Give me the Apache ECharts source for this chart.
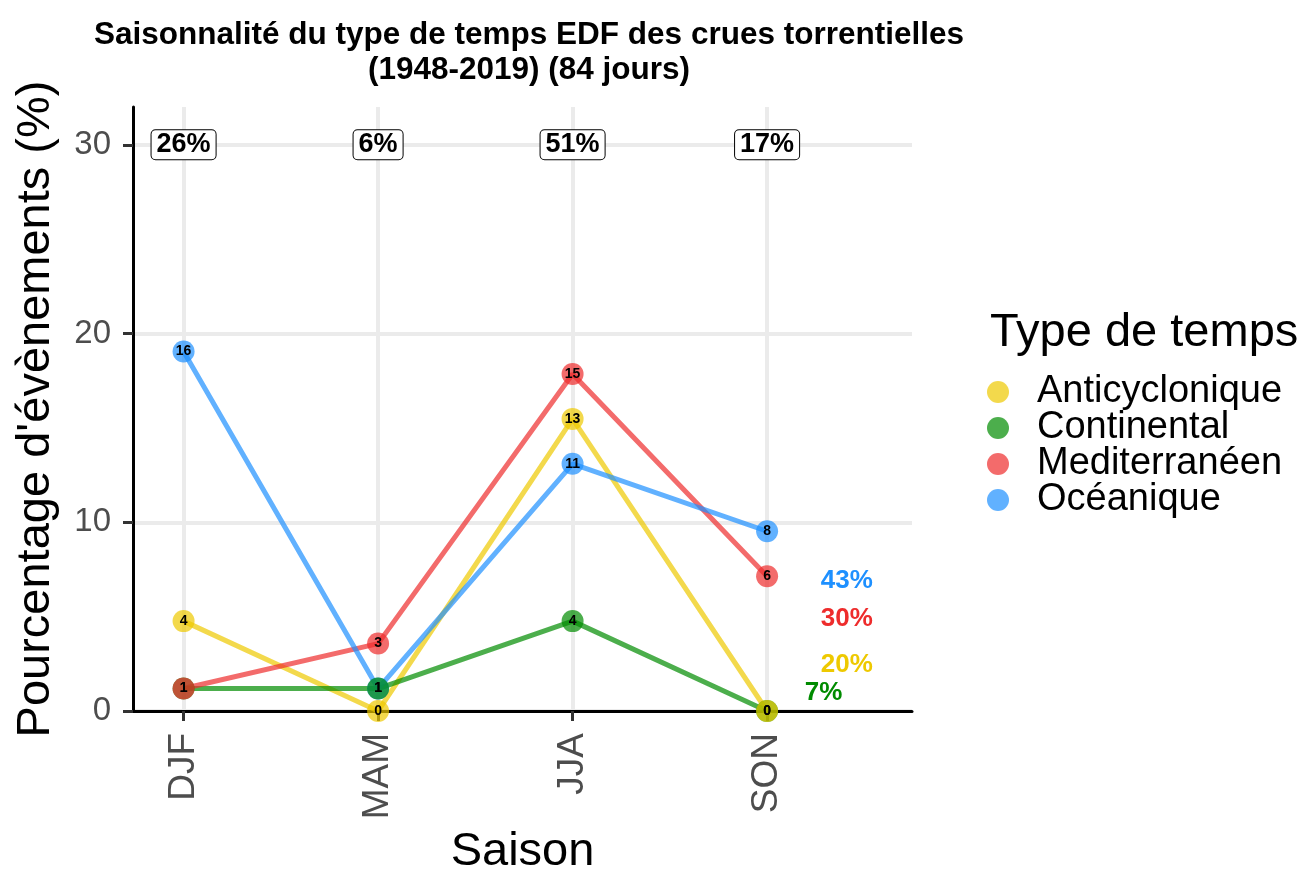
<!DOCTYPE html>
<html>
<head>
<meta charset="utf-8">
<script src="https://cdn.jsdelivr.net/npm/echarts@6/dist/echarts.min.js"></script>
<style>
  html, body { margin: 0; padding: 0; background: #fff; }
  #chart { width: 1306px; height: 870px; }
</style>
</head>
<body>
<div id="chart"></div>
<script>
// saisons et types de temps
const seasons = ['DJF', 'MAM', 'JJA', 'SON'];
const types = ['Anticyclonique', 'Continental', 'Mediterranéen', 'Océanique'];
const nDays = 84;

// nombre de jours par saison (DJF, MAM, JJA, SON)
const anticyclonique = [4, 0, 13, 0];
const continental = [1, 1, 4, 0];
const mediterraneen = [1, 3, 15, 6];
const oceanique = [16, 1, 11, 8];

// étiquettes
const seasonShare = ['26%', '6%', '51%', '17%'];
const seasonShareY = 30;
const typeShare = ['20%', '7%', '30%', '43%'];
const typeShareX = [3.41, 3.29, 3.41, 3.41];
const typeShareY = [2.45, 0.95, 4.9, 6.9];
const yTicks = [0, 10, 20, 30];
const xTicks = [0, 1, 2, 3];

const counts = [anticyclonique, continental, mediterraneen, oceanique];
const colors = ['#EEC900', '#008B00', '#EE2C2C', '#1E90FF'];
// ordre de dessin des points (le dernier est au-dessus)
const pointOrder = [3, 1, 0, 2];

const pct = c => c / nDays * 100;

const chart = echarts.init(document.getElementById('chart'));

const pointSeries = pointOrder.map(k => ({
  name: types[k],
  type: 'scatter',
  z: 3,
  symbol: 'circle',
  symbolSize: 22,
  itemStyle: { color: colors[k], opacity: 0.7 },
  label: {
    show: true,
    position: 'inside',
    formatter: p => p.value[2],
    fontSize: 14,
    fontWeight: 'bold',
    color: '#000',
    opacity: 1
  },
  data: counts[k].map((c, i) => [i, pct(c), c])
}));

const lineSeries = types.map((name, k) => ({
  name: name,
  type: 'line',
  z: 2,
  showSymbol: false,
  lineStyle: { color: colors[k], width: 5, opacity: 0.7 },
  itemStyle: { color: colors[k] },
  data: counts[k].map((c, i) => [i, pct(c)])
}));

chart.setOption({
  animation: false,
  textStyle: { fontFamily: 'Liberation Sans, Arial, sans-serif' },
  title: [{
    text: 'Saisonnalité du type de temps EDF des crues torrentielles\n(1948-2019) (84 jours)',
    left: 524,
    top: 13,
    textAlign: 'center',
    textStyle: { fontSize: 31.5, fontWeight: 'bold', color: '#000', lineHeight: 35 }
  }, {
    text: 'Type de temps',
    left: 985,
    top: 305,
    textStyle: { fontSize: 47, fontWeight: 'normal', color: '#000' }
  }],
  legend: {
    orient: 'vertical',
    left: 982,
    top: 368,
    itemWidth: 68,
    itemHeight: 22,
    itemGap: -2,
    icon: 'circle',
    selectedMode: false,
    data: types,
    textStyle: { fontSize: 38, color: '#000', lineHeight: 36 }
  },
  grid: { left: 133, right: 394, top: 107, bottom: 159, outerBoundsMode: 'none' },
  xAxis: {
    type: 'value',
    min: -0.26,
    max: 3.745,
    name: 'Saison',
    nameLocation: 'middle',
    nameGap: 118,
    nameTextStyle: { fontSize: 47, color: '#000' },
    axisLine: { show: true, onZero: false, lineStyle: { color: '#000', width: 3 } },
    axisTick: { show: true, customValues: xTicks, length: 10, lineStyle: { color: '#333', width: 3 } },
    axisLabel: {
      customValues: xTicks,
      formatter: v => seasons[Math.round(v)],
      rotate: 90,
      margin: 22,
      fontSize: 37,
      color: '#4d4d4d'
    },
    splitLine: { show: true, lineStyle: { color: '#ebebeb', width: 4 } }
  },
  yAxis: {
    type: 'value',
    min: 0,
    max: 32,
    name: "Pourcentage d'évènements (%)",
    nameLocation: 'middle',
    nameGap: 73,
    nameRotate: 90,
    nameTextStyle: { fontSize: 47, color: '#000' },
    axisLine: { show: true, onZero: false, lineStyle: { color: '#000', width: 3 } },
    axisTick: { show: true, customValues: yTicks, length: 10, lineStyle: { color: '#333', width: 3 } },
    axisLabel: { customValues: yTicks, margin: 22, fontSize: 33, color: '#4d4d4d' },
    splitLine: { show: true, lineStyle: { color: '#ebebeb', width: 4 } }
  },
  series: [
    ...pointSeries,
    ...lineSeries,
    {
      type: 'scatter',
      z: 4,
      symbolSize: 0,
      silent: true,
      itemStyle: { opacity: 1 },
      label: {
        show: true,
        position: 'inside',
        formatter: p => p.value[2],
        fontSize: 27,
        fontWeight: 'bold',
        color: '#000',
        opacity: 1,
        backgroundColor: '#fff',
        borderColor: '#000',
        borderWidth: 1,
        borderRadius: 4,
        padding: [2, 5, 0, 5]
      },
      data: seasonShare.map((s, i) => [i, seasonShareY, s])
    },
    {
      type: 'scatter',
      z: 4,
      symbolSize: 0,
      silent: true,
      itemStyle: { opacity: 1 },
      label: {
        show: true,
        position: 'inside',
        formatter: p => p.value[2],
        fontSize: 26,
        fontWeight: 'bold',
        opacity: 1
      },
      data: typeShare.map((s, k) => ({
        value: [typeShareX[k], typeShareY[k], s],
        label: { color: colors[k] }
      }))
    }
  ]
});
</script>
</body>
</html>
